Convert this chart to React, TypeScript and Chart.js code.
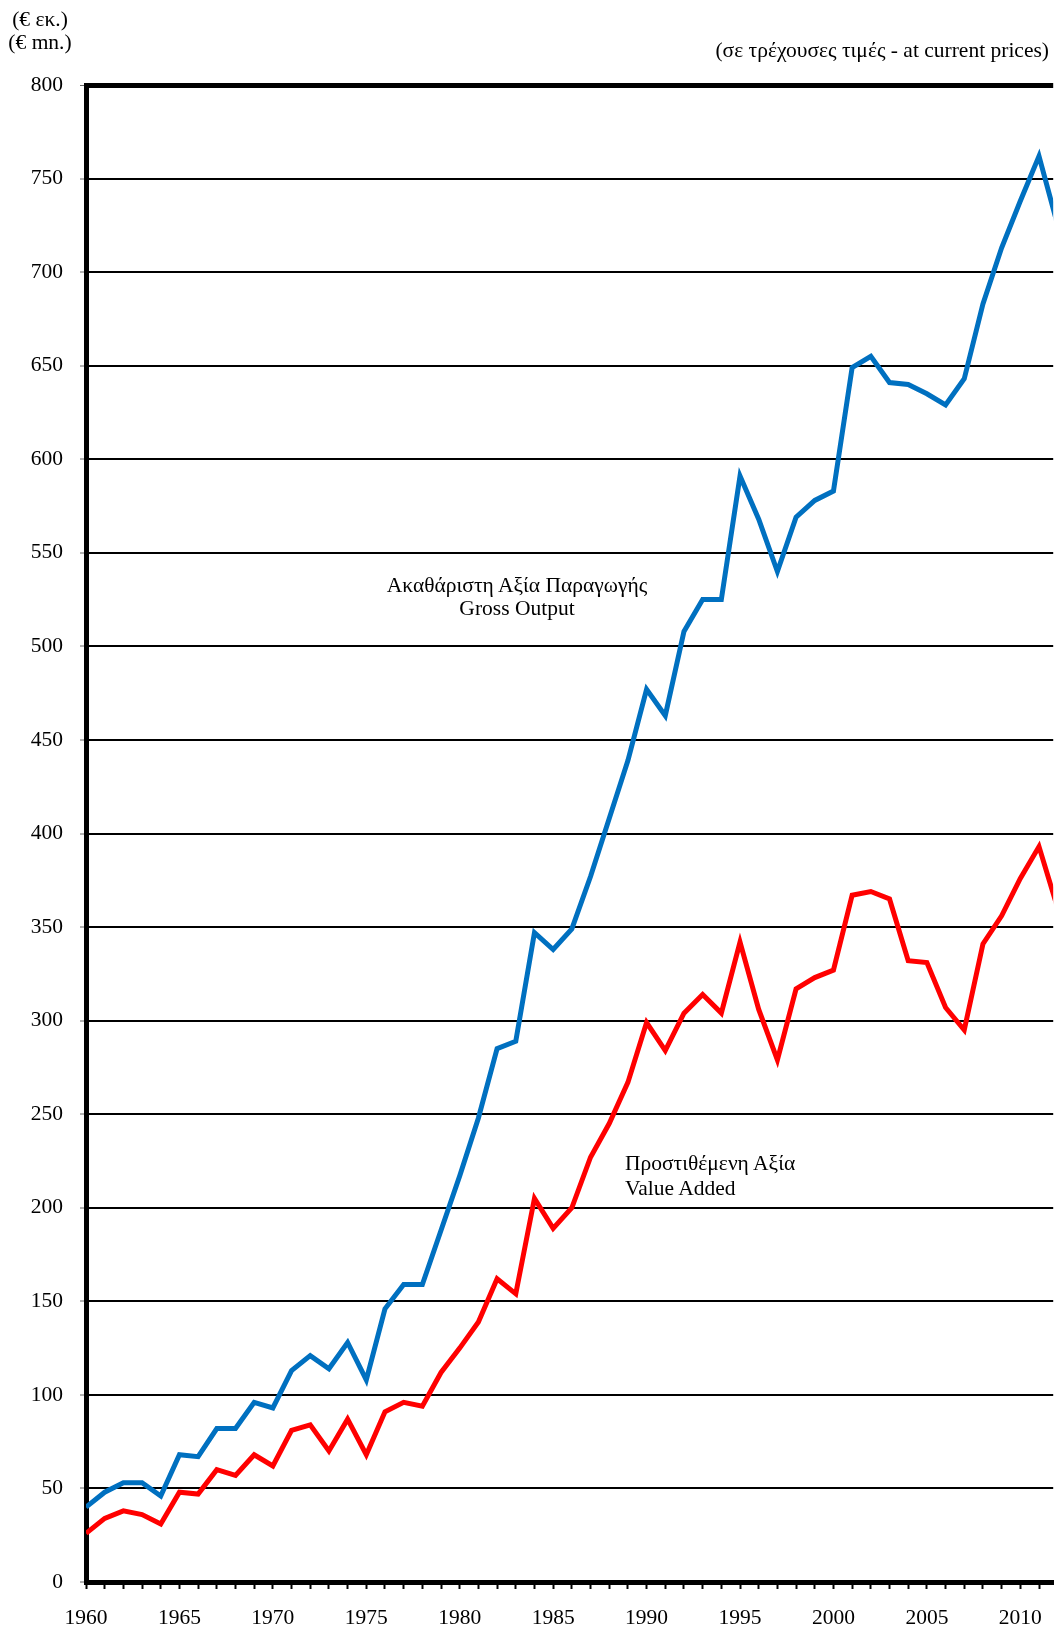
import React, { useEffect, useRef } from "react";
import { Chart, registerables } from "chart.js";

Chart.register(...registerables);

const years: number[] = [
  1960, 1961, 1962, 1963, 1964, 1965, 1966, 1967, 1968, 1969,
  1970, 1971, 1972, 1973, 1974, 1975, 1976, 1977, 1978, 1979,
  1980, 1981, 1982, 1983, 1984, 1985, 1986, 1987, 1988, 1989,
  1990, 1991, 1992, 1993, 1994, 1995, 1996, 1997, 1998, 1999,
  2000, 2001, 2002, 2003, 2004, 2005, 2006, 2007, 2008, 2009,
  2010, 2011, 2012,
];

const grossOutput: number[] = [
  40, 48, 53, 53, 46, 68, 67, 82, 82, 96,
  93, 113, 121, 114, 128, 108, 146, 159, 159, 188,
  217, 248, 285, 289, 347, 338, 349, 377, 408, 439,
  477, 463, 508, 525, 525, 591, 568, 540, 569, 578,
  583, 649, 655, 641, 640, 635, 629, 643, 683, 713,
  738, 762, 725,
];

const valueAdded: number[] = [
  26, 34, 38, 36, 31, 48, 47, 60, 57, 68,
  62, 81, 84, 70, 87, 68, 91, 96, 94, 112,
  125, 139, 162, 154, 205, 189, 200, 227, 245, 267,
  299, 284, 304, 314, 304, 342, 306, 279, 317, 323,
  327, 367, 369, 365, 332, 331, 307, 295, 341, 356,
  376, 393, 360,
];

const seriesLabels = ["Ακαθάριστη Αξία Παραγωγής / Gross Output", "Προστιθέμενη Αξία / Value Added"];
const xMin = 1960;
const xMaxVisible = 2011.76;
const yMin = 0;
const yMax = 800;
const yStep = 50;

const FONT = "'Liberation Serif', 'Times New Roman', serif";
const FS = 21.5;

export default function App() {
  const canvasRef = useRef<HTMLCanvasElement | null>(null);

  useEffect(() => {
    const canvas = canvasRef.current;
    if (!canvas) return;
    const chart = new Chart(canvas, {
      type: "line",
      data: {
        datasets: [
          {
            label: seriesLabels[0],
            data: years.map((yr, i) => ({ x: yr, y: grossOutput[i] })),
            borderColor: "#0070C0",
            backgroundColor: "#0070C0",
            borderWidth: 5,
            pointRadius: 0,
            tension: 0,
          },
          {
            label: seriesLabels[1],
            data: years.map((yr, i) => ({ x: yr, y: valueAdded[i] })),
            borderColor: "#FF0000",
            backgroundColor: "#FF0000",
            borderWidth: 5,
            pointRadius: 0,
            tension: 0,
          },
        ],
      },
      options: {
        responsive: false,
        animation: false,
        devicePixelRatio: 1,
        layout: { padding: { top: 85, right: 0, left: 0, bottom: 0 } },
        plugins: {
          legend: { display: false },
          tooltip: { enabled: false },
          title: { display: false },
        },
        scales: {
          x: {
            type: "linear",
            min: xMin,
            max: xMaxVisible,
            offset: false,
            afterFit: (scale: any) => {
              scale.height = 48;
            },
            ticks: {
              stepSize: 1,
              includeBounds: false,
              autoSkip: false,
              maxRotation: 0,
              minRotation: 0,
              padding: 16,
              color: "#000",
              font: { family: FONT, size: FS },
              callback: (v: any) => (Number(v) % 5 === 0 ? String(v) : ""),
            },
            grid: {
              drawOnChartArea: false,
              drawTicks: true,
              tickLength: 7,
              tickColor: "#000",
              tickWidth: 2,
            },
            border: { display: true, color: "#000", width: 5 },
          },
          y: {
            min: yMin,
            max: yMax,
            afterFit: (scale: any) => {
              scale.width = 86;
            },
            ticks: {
              stepSize: yStep,
              padding: 17,
              color: "#000",
              font: { family: FONT, size: FS },
            },
            grid: {
              color: "#000",
              lineWidth: (ctx: any) => (ctx.tick && ctx.tick.value === yMax ? 5 : 2),
              drawTicks: true,
              tickLength: 6,
              tickColor: "#666",
              tickWidth: 1,
            },
            border: { display: true, color: "#000", width: 5 },
          },
        },
      },
    });
    return () => chart.destroy();
  }, []);

  const textBase: React.CSSProperties = {
    position: "absolute",
    fontFamily: FONT,
    fontSize: FS,
    color: "#000",
    whiteSpace: "nowrap",
  };

  return (
    <div style={{ position: "absolute", left: 0, top: 0, width: 1055, height: 1630, overflow: "hidden", background: "#fff" }}>
      <canvas ref={canvasRef} width={1055} height={1630} style={{ position: "absolute", left: 0, top: 0, width: 1055, height: 1630 }} />
      <div style={{ ...textBase, left: 40, top: 7.5, lineHeight: "23px", textAlign: "center", transform: "translateX(-50%)" }}>
        (€ εκ.)
        <br />
        (€ mn.)
      </div>
      <div style={{ ...textBase, right: 6, top: 38, lineHeight: "24px", textAlign: "right" }}>
        (σε τρέχουσες τιμές - at current prices)
      </div>
      <div style={{ ...textBase, left: 517, top: 573.5, lineHeight: "23px", textAlign: "center", transform: "translateX(-50%)" }}>
        Ακαθάριστη Αξία Παραγωγής
        <br />
        Gross Output
      </div>
      <div style={{ ...textBase, left: 625, top: 1150.5, lineHeight: "25px", textAlign: "left" }}>
        Προστιθέμενη Αξία
        <br />
        Value Added
      </div>
    </div>
  );
}
